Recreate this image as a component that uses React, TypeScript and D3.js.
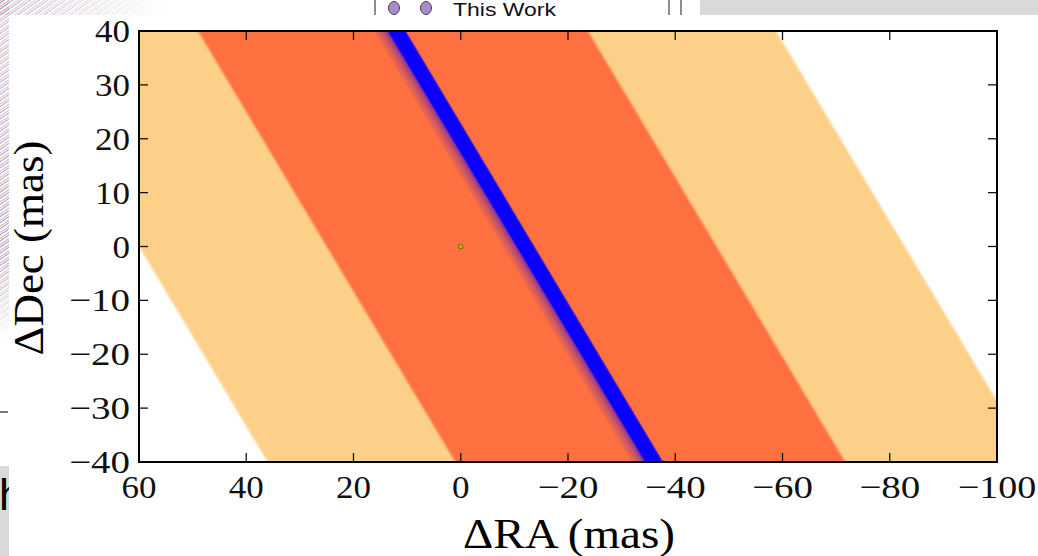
import React from "react";
import * as d3 from "d3";

// ---- data ----
const xDomain = [60, -100];
const yDomain = [-40, 40];
const xTicks = [60, 40, 20, 0, -20, -40, -60, -80, -100];
const yTicks = [-40, -30, -20, -10, 0, 10, 20, 30, 40];
// bands are lines RA = c + slope * Dec ; c given at Dec = 0
const slope = 0.6;
const outerBand = [-82.8, 60];
const innerBand = [-47.7, 25];
const blueLo = [-7.9, -8.7, -9.4, -10.0, -10.4, -10.7];
const blueHi = [-13.8, -13.8, -13.8, -13.8, -13.6, -13.4];
const blueOpacity = [0.12, 0.15, 0.2, 0.35, 0.9, 1];
const pointRA = [0];
const pointDec = [0];
const legendLabels = ["This Work"];

const W = 1038;
const H = 556;
const L = 139, R = 997, T = 31, B = 462;

const fmt = (v: number) => (v < 0 ? "\u2212" + Math.abs(v) : String(v));

export default function App() {
  const x = d3.scaleLinear().domain(xDomain).range([L, R]);
  const y = d3.scaleLinear().domain(yDomain).range([B, T]);

  const bandPath = (a: number, b: number) => {
    const d0 = -60, d1 = 60;
    const pts: [number, number][] = [
      [x(a + slope * d0), y(d0)],
      [x(a + slope * d1), y(d1)],
      [x(b + slope * d1), y(d1)],
      [x(b + slope * d0), y(d0)],
    ];
    return d3.line()(pts)! + "Z";
  };

  const serif = "'Liberation Serif', 'Times New Roman', serif";
  const sans = "'Liberation Sans', Arial, sans-serif";
  const tickLen = 9;
  const labelWidth = (s: string) =>
    (s.startsWith("\u2212") ? 26 : 0) + (s.replace("\u2212", "").length) * 17.5;

  return (
    <div style={{ position: "fixed", left: 0, top: 0, width: W, height: H, background: "#fff" }}>
      <svg width={W} height={H} style={{ display: "block" }}>
        <defs>
          <clipPath id="plotclip">
            <rect x={L} y={T} width={R - L} height={B - T} />
          </clipPath>
          <filter id="soft" x="-5%" y="-5%" width="110%" height="110%">
            <feGaussianBlur stdDeviation="0.9" />
          </filter>
          <pattern id="hatch" width="5" height="5" patternUnits="userSpaceOnUse" patternTransform="rotate(55)">
            <line x1="0" y1="0" x2="0" y2="5" stroke="#e07070" strokeWidth="1.4" />
            <line x1="2.5" y1="0" x2="2.5" y2="5" stroke="#8090c8" strokeWidth="1" />
          </pattern>
          <linearGradient id="fadeTop" x1="0" y1="0" x2="1" y2="0">
            <stop offset="0" stopColor="#fff" stopOpacity="0.7" />
            <stop offset="1" stopColor="#fff" stopOpacity="0" />
          </linearGradient>
          <linearGradient id="fadeLeft" x1="0" y1="0" x2="0" y2="1">
            <stop offset="0" stopColor="#fff" stopOpacity="0.6" />
            <stop offset="0.75" stopColor="#fff" stopOpacity="0.9" />
            <stop offset="1" stopColor="#fff" stopOpacity="0" />
          </linearGradient>
          <mask id="maskTop">
            <rect x={0} y={0} width={170} height={15} fill="url(#fadeTop)" />
          </mask>
          <mask id="maskLeft">
            <rect x={0} y={0} width={9} height={340} fill="url(#fadeLeft)" />
          </mask>
          <clipPath id="hclip">
            <rect x={0} y={466} width={9} height={90} />
          </clipPath>
        </defs>

        {/* background artifacts */}
        <rect x={0} y={0} width={170} height={15} fill="url(#hatch)" mask="url(#maskTop)" />
        <rect x={0} y={0} width={9} height={340} fill="url(#hatch)" mask="url(#maskLeft)" />
        <line x1={0} x2={8} y1={412} y2={412} stroke="#222" strokeWidth={1.2} />
        <rect x={0} y={466} width={9} height={90} fill="#d9d9d9" />
        <text x={-1} y={510} fontFamily={sans} fontSize={44} fill="#000" clipPath="url(#hclip)">h</text>

        {/* legend fragment */}
        <line x1={375} x2={375} y1={0} y2={15} stroke="#444" strokeWidth={1.2} />
        <ellipse cx={394} cy={8} rx={5.5} ry={6.5} fill="#a98ccf" stroke="#444" strokeWidth={1} />
        <ellipse cx={426} cy={8} rx={5.5} ry={6.5} fill="#a98ccf" stroke="#444" strokeWidth={1} />
        <text x={453} y={16} fontFamily={sans} fontSize={19} fill="#111" textLength={103} lengthAdjust="spacingAndGlyphs">{legendLabels[0]}</text>
        <line x1={669} x2={669} y1={0} y2={15} stroke="#444" strokeWidth={1.2} />
        <line x1={681} x2={681} y1={0} y2={15} stroke="#444" strokeWidth={1.2} />
        <rect x={700} y={0} width={338} height={15} fill="#d9d9d9" />

        {/* plot */}
        <g clipPath="url(#plotclip)">
          <rect x={L} y={T} width={R - L} height={B - T} fill="#fff" />
          <path d={bandPath(outerBand[0], outerBand[1])} fill="#fdd08a" filter="url(#soft)" />
          <path d={bandPath(innerBand[0], innerBand[1])} fill="#ff7040" filter="url(#soft)" />
          {blueLo.map((lo, i) => (
            <path key={i} d={bandPath(lo, blueHi[i])} fill={i < 4 ? "#3a10d0" : "#0a00ff"} fillOpacity={blueOpacity[i]} />
          ))}
          {pointRA.map((ra, i) => (
            <circle key={i} cx={x(ra)} cy={y(pointDec[i])} r={2.4} fill="#b8b400" stroke="#5b6a00" strokeWidth={0.8} />
          ))}
        </g>

        {/* ticks */}
        {xTicks.map((t) => (
          <g key={"x" + t}>
            <line x1={x(t)} x2={x(t)} y1={B} y2={B - tickLen} stroke="#111" strokeWidth={1.3} />
            <line x1={x(t)} x2={x(t)} y1={T} y2={T + tickLen} stroke="#111" strokeWidth={1.3} />
            <text x={x(t)} y={498} textAnchor="middle" fontFamily={serif} fontSize={32} fill="#111"
              textLength={labelWidth(fmt(t))} lengthAdjust="spacingAndGlyphs">{fmt(t)}</text>
          </g>
        ))}
        {yTicks.map((t) => (
          <g key={"y" + t}>
            <line x1={L} x2={L + tickLen} y1={y(t)} y2={y(t)} stroke="#111" strokeWidth={1.3} />
            <line x1={R} x2={R - tickLen} y1={y(t)} y2={y(t)} stroke="#111" strokeWidth={1.3} />
            <text x={130} y={y(t) + 11} textAnchor="end" fontFamily={serif} fontSize={32} fill="#111"
              textLength={labelWidth(fmt(t))} lengthAdjust="spacingAndGlyphs">{fmt(t)}</text>
          </g>
        ))}
        <rect x={L} y={T} width={R - L} height={B - T} fill="none" stroke="#000" strokeWidth={2} />

        {/* axis labels */}
        <text x={569} y={548} textAnchor="middle" fontFamily={serif} fontSize={42} fill="#000"
          textLength={212} lengthAdjust="spacingAndGlyphs">ΔRA (mas)</text>
        <text transform="translate(43,248) rotate(-90)" textAnchor="middle" fontFamily={serif} fontSize={42} fill="#000"
          textLength={215} lengthAdjust="spacingAndGlyphs">ΔDec (mas)</text>
      </svg>
    </div>
  );
}
